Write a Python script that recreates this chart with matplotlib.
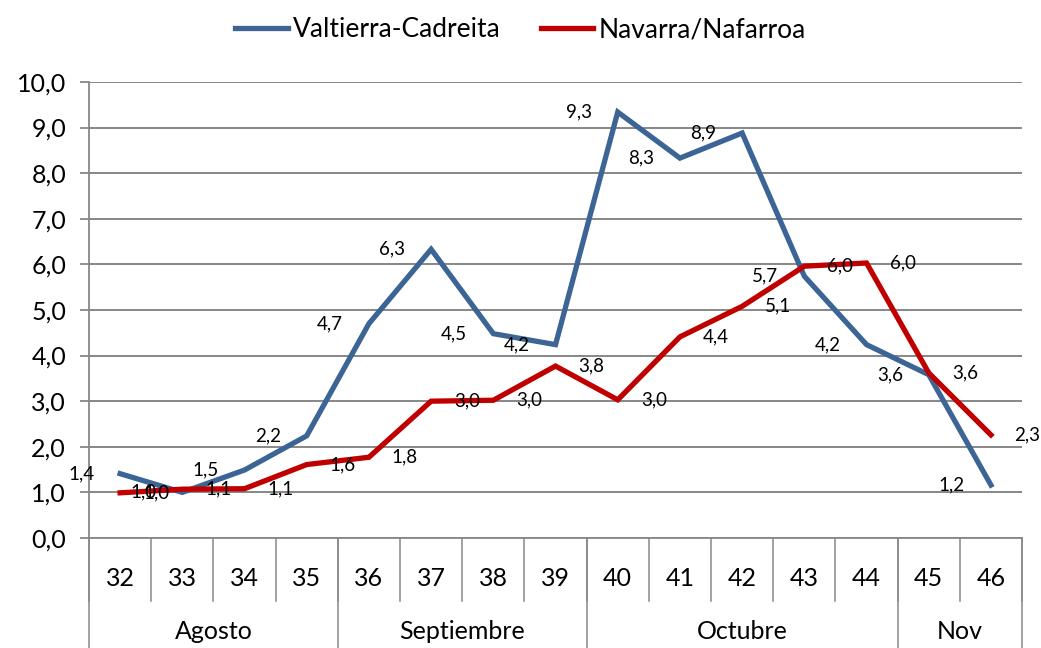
import matplotlib.pyplot as plt
from matplotlib.ticker import FuncFormatter
import matplotlib.transforms as mtransforms

plt.rcParams['font.family'] = ['Lato', 'DejaVu Sans']

weeks = ['32', '33', '34', '35', '36', '37', '38', '39', '40', '41', '42', '43', '44', '45', '46']
months = ['Agosto', 'Septiembre', 'Octubre', 'Nov']
month_weeks = [4, 4, 5, 2]  # number of weeks in each month group

valtierra = [1.41, 1.0, 1.49, 2.24, 4.7, 6.33, 4.48, 4.24, 9.34, 8.33, 8.88, 5.74, 4.24, 3.58, 1.16]
navarra = [0.99, 1.07, 1.08, 1.61, 1.77, 3.0, 3.02, 3.77, 3.03, 4.41, 5.08, 5.96, 6.03, 3.62, 2.26]

blue = '#3C6595'
red = '#C00000'
grey = '#878787'

fig = plt.figure(figsize=(10.41, 6.48), dpi=100)
ax = fig.add_axes([0.0855, 0.1698, 0.8963, 0.7037])

x = list(range(len(weeks)))
ax.plot(x, valtierra, color=blue, lw=3.8, label='Valtierra-Cadreita', solid_joinstyle='miter')
ax.plot(x, navarra, color=red, lw=3.8, label='Navarra/Nafarroa', solid_joinstyle='miter')

def fmt(v):
    return f'{v:.1f}'.replace('.', ',')

# data labels: blue on the left, red on the right
for i, v in enumerate(valtierra):
    ax.annotate(fmt(v), (i, v), xytext=(-39, 0), textcoords='offset pixels',
                ha='center', va='center', fontsize=13.5, annotation_clip=False)
for i, v in enumerate(navarra):
    ax.annotate(fmt(v), (i, v), xytext=(36, 0), textcoords='offset pixels',
                ha='center', va='center', fontsize=13.5, annotation_clip=False)

ax.set_xlim(-0.5, len(weeks) - 0.5)
ax.set_ylim(0, 10)
ax.set_yticks([i for i in range(11)])
ax.yaxis.set_major_formatter(FuncFormatter(lambda v, p: fmt(v)))
ax.tick_params(axis='y', labelsize=18, length=6.5, color=grey, width=1.3, pad=10)
ax.set_xticks([])
ax.grid(axis='y', color=grey, lw=1.4)
ax.set_axisbelow(True)
for s in ['top', 'right']:
    ax.spines[s].set_visible(False)
for s in ['left', 'bottom']:
    ax.spines[s].set_color(grey)
    ax.spines[s].set_linewidth(1.3)

# two-level category axis
trans = mtransforms.blended_transform_factory(ax.transData, ax.transAxes)
for i, w in enumerate(weeks):
    ax.text(i, -0.088, w, transform=trans, ha='center', va='center', fontsize=18)
for i in range(len(weeks) + 1):
    ax.plot([i - 0.5, i - 0.5], [0, -0.138], transform=trans, color=grey, lw=1.1, clip_on=False)

start = 0
for m, n in zip(months, month_weeks):
    ax.text(start + n / 2 - 0.5, -0.206, m, transform=trans, ha='center', va='center', fontsize=18)
    start += n
bounds = [0]
for n in month_weeks:
    bounds.append(bounds[-1] + n)
for b in bounds:
    ax.plot([b - 0.5, b - 0.5], [0, -0.245], transform=trans, color=grey, lw=1.1, clip_on=False)

fig.legend(loc='upper center', bbox_to_anchor=(0.5, 1.01), ncol=2, frameon=False,
           fontsize=19, handlelength=2.0, columnspacing=1.5, handletextpad=0.2)

fig.savefig('out.png', dpi=100)
